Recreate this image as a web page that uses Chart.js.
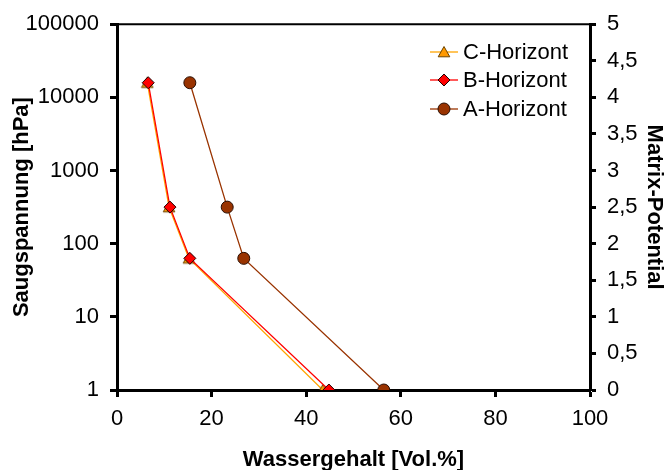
<!DOCTYPE html>
<html>
<head>
<meta charset="utf-8">
<script src="https://cdn.jsdelivr.net/npm/chart.js@4/dist/chart.umd.min.js"></script>
<style>
  html, body { margin: 0; padding: 0; background: #fff; }
  #wrap { width: 664px; height: 470px; }
</style>
</head>
<body>
<div id="wrap"><canvas id="c" width="664" height="470"></canvas></div>
<script>
// ---- data ----
const seriesNames = ['C-Horizont', 'B-Horizont', 'A-Horizont'];
const suction = [15850, 316, 63, 1];            // Saugspannung [hPa]
const waterC = [6.4, 11.0, 15.2, 43.5];         // Wassergehalt [Vol.%]
const waterB = [6.6, 11.2, 15.4, 44.8];
const waterA = [15.4, 23.3, 26.8, 56.4];
const xTicks = [0, 20, 40, 60, 80, 100];
const yTickValues = [1, 10, 100, 1000, 10000, 100000];
const yTickLabels = ['1', '10', '100', '1000', '10000', '100000'];
const y2TickLabels = ['0', '0,5', '1', '1,5', '2', '2,5', '3', '3,5', '4', '4,5', '5'];

const FONT = "'Liberation Sans', Arial, sans-serif";

function pts(xs) { return xs.map((x, i) => ({ x: x, y: suction[i] })); }

// Excel-like triangle marker: bounding box centred on the point
function makeTriangle(fill, stroke) {
  const c = document.createElement('canvas');
  c.width = 14; c.height = 14;
  const g = c.getContext('2d');
  g.fillStyle = fill;
  g.strokeStyle = stroke;
  g.lineWidth = 1;
  g.beginPath();
  g.moveTo(7, 1.5);
  g.lineTo(12.8, 11.8);
  g.lineTo(1.2, 11.8);
  g.closePath();
  g.fill();
  g.stroke();
  return c;
}

const triImg = makeTriangle('#FF9900', '#6b4300');

const styles = [
  { line: '#FFA500', fill: '#FF9900', border: '#6b4300', shape: triImg, r: 7, order: 1 },
  { line: '#FF0000', fill: '#FF0000', border: '#200000', shape: 'rectRot', r: 6, order: 0 },
  { line: '#993300', fill: '#993300', border: '#2a0d00', shape: 'circle', r: 6, order: 2 }
];
const seriesData = [waterC, waterB, waterA];

const datasets = seriesNames.map((name, i) => ({
  label: name,
  data: pts(seriesData[i]),
  borderColor: styles[i].line,
  borderWidth: 1.3,
  pointStyle: styles[i].shape,
  pointRadius: styles[i].r,
  pointBackgroundColor: styles[i].fill,
  pointBorderColor: styles[i].border,
  pointBorderWidth: 1,
  order: styles[i].order,
  tension: 0,
  fill: false,
  yAxisID: 'y'
}));

const frameAndLegend = {
  id: 'frameAndLegend',
  afterDraw(chart) {
    const ctx = chart.ctx;
    const a = chart.chartArea;
    ctx.save();
    // top frame line
    ctx.strokeStyle = '#000';
    ctx.lineWidth = 2;
    ctx.beginPath();
    ctx.moveTo(a.left, a.top);
    ctx.lineTo(a.right + 1, a.top);
    ctx.stroke();
    // legend
    const x0 = 430, x1 = 458, tx = 463;
    const rows = [52, 80, 109];
    ctx.font = '22px ' + FONT;
    ctx.textBaseline = 'middle';
    ctx.textAlign = 'left';
    chart.data.datasets.forEach((ds, i) => {
      const y = rows[i];
      ctx.strokeStyle = ds.borderColor;
      ctx.lineWidth = 1.3;
      ctx.beginPath();
      ctx.moveTo(x0, y);
      ctx.lineTo(x1, y);
      ctx.stroke();
      ctx.fillStyle = ds.pointBackgroundColor;
      ctx.strokeStyle = ds.pointBorderColor;
      ctx.lineWidth = 1;
      Chart.helpers.drawPoint(ctx, { pointStyle: ds.pointStyle, radius: ds.pointRadius, borderWidth: 1, rotation: 0 }, (x0 + x1) / 2, y);
      ctx.fillStyle = '#000';
      ctx.fillText(ds.label, tx, y + 1);
    });
    ctx.restore();
  }
};

const tickGrid = { drawOnChartArea: false, drawTicks: true, tickLength: 7, tickWidth: 3, tickColor: '#000' };

new Chart(document.getElementById('c'), {
  type: 'line',
  data: { datasets: datasets },
  options: {
    responsive: false,
    animation: false,
    devicePixelRatio: 1,
    layout: { padding: { top: 24, left: 0, right: 0, bottom: 0 } },
    plugins: { legend: { display: false }, tooltip: { enabled: false } },
    scales: {
      x: {
        type: 'linear', position: 'bottom', min: 0, max: 100,
        afterBuildTicks: s => { s.ticks = xTicks.map(v => ({ value: v })); },
        afterFit: s => { s.height = 80; },
        ticks: { color: '#000', font: { family: FONT, size: 22 }, padding: 9, maxRotation: 0 },
        grid: tickGrid,
        border: { color: '#000', width: 3 },
        title: { display: true, text: 'Wassergehalt [Vol.%]', color: '#000', font: { family: FONT, size: 22, weight: 'bold' }, padding: { top: 0, bottom: -3 } }
      },
      y: {
        type: 'logarithmic', position: 'left', min: 1, max: 100000,
        afterBuildTicks: s => { s.ticks = yTickValues.map(v => ({ value: v })); },
        afterFit: s => { s.width = 117; },
        ticks: { color: '#000', font: { family: FONT, size: 22 }, padding: 11, callback: (v, i) => yTickLabels[i] },
        grid: tickGrid,
        border: { color: '#000', width: 3 },
        title: { display: true, text: 'Saugspannung [hPa]', color: '#000', font: { family: FONT, size: 22, weight: 'bold' }, padding: { top: 9, bottom: 0 } }
      },
      y2: {
        type: 'linear', position: 'right', min: 0, max: 5,
        afterBuildTicks: s => { s.ticks = y2TickLabels.map((t, i) => ({ value: i * 0.5 })); },
        afterFit: s => { s.width = 74; },
        ticks: { color: '#000', font: { family: FONT, size: 22 }, padding: 11, callback: (v, i) => y2TickLabels[i] },
        grid: { drawOnChartArea: false, drawTicks: true, tickLength: 6, tickWidth: 3, tickColor: '#000' },
        border: { color: '#000', width: 3 },
        title: { display: true, text: 'Matrix-Potential', color: '#000', font: { family: FONT, size: 22, weight: 'bold' }, padding: { top: -3, bottom: 0 } }
      }
    }
  },
  plugins: [frameAndLegend]
});
</script>
</body>
</html>
